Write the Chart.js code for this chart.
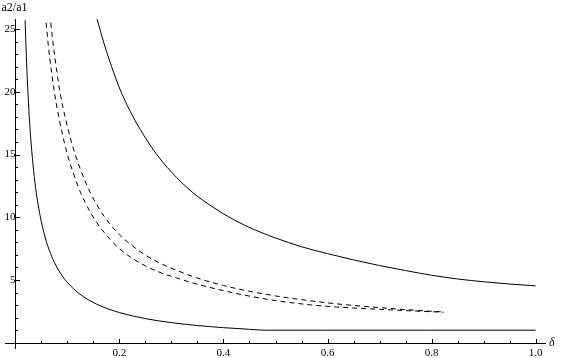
<!DOCTYPE html>
<html><head><meta charset="utf-8">
<script src="https://cdn.jsdelivr.net/npm/chart.js@4/dist/chart.umd.min.js"></script>
<style>html,body{margin:0;padding:0;background:#fff}#wrap{width:562px;height:358px}</style>
</head><body><div id="wrap"><canvas id="c" width="562" height="358"></canvas></div>
<script>
// Axis ticks and labels
const xTickValues = [0.2, 0.4, 0.6, 0.8, 1.0];
const xTickLabels = ['0.2', '0.4', '0.6', '0.8', '1.0'];
const xMinorTicks = [0.05, 0.1, 0.15, 0.25, 0.3, 0.35, 0.45, 0.5, 0.55, 0.65, 0.7, 0.75, 0.85, 0.9, 0.95];
const yTickValues = [5, 10, 15, 20, 25];
const yTickLabels = ['5', '10', '15', '20', '25'];
const yMinorTicks = [1, 2, 3, 4, 6, 7, 8, 9, 11, 12, 13, 14, 16, 17, 18, 19, 21, 22, 23, 24];
const xAxisTitle = 'δ';
const yAxisTitle = 'a2/a1';

// Lower solid curve
const lowerSolidX = [0.0187, 0.02, 0.022, 0.025, 0.028, 0.03, 0.035, 0.04, 0.045, 0.05, 0.06, 0.07, 0.08, 0.09, 0.1, 0.12, 0.14, 0.16, 0.18, 0.2, 0.25, 0.3, 0.35, 0.4, 0.45, 0.48, 0.6, 0.8, 1.0];
const lowerSolidY = [25.7, 24.0, 21.8, 19.2, 17.1, 16.0, 13.7, 12.0, 10.7, 9.6, 8.0, 6.86, 6.0, 5.33, 4.8, 4.0, 3.43, 3.0, 2.67, 2.4, 1.92, 1.6, 1.37, 1.2, 1.07, 1.0, 1.0, 1.0, 1.0];

// Dashed curve (lower of the pair)
const dashLowX = [0.059, 0.063, 0.07, 0.078, 0.09, 0.1, 0.1115, 0.125, 0.144, 0.16, 0.182, 0.2, 0.225, 0.25, 0.28, 0.31, 0.35, 0.4, 0.438, 0.5, 0.567, 0.62, 0.676, 0.75, 0.823];
const dashLowY = [25.5, 23.8, 21.4, 19.2, 16.7, 15.0, 13.5, 12.0, 10.4, 9.37, 8.24, 7.5, 6.72, 6.12, 5.57, 5.16, 4.66, 4.15, 3.81, 3.36, 3.02, 2.84, 2.71, 2.56, 2.43];

// Dashed curve (upper of the pair)
const dashHighX = [0.068, 0.072, 0.078, 0.086, 0.095, 0.105, 0.115, 0.128, 0.14, 0.155, 0.17, 0.182, 0.2, 0.225, 0.25, 0.28, 0.31, 0.35, 0.4, 0.438, 0.5, 0.567, 0.62, 0.676, 0.75, 0.823];
const dashHighY = [25.5, 24.0, 22.1, 19.9, 18.1, 16.4, 15.0, 13.5, 12.3, 11.1, 10.1, 9.45, 8.6, 7.72, 6.98, 6.3, 5.77, 5.15, 4.56, 4.2, 3.73, 3.34, 3.09, 2.88, 2.64, 2.45];

// Upper solid curve
const upperSolidX = [0.157, 0.17, 0.185, 0.2, 0.22, 0.24, 0.27, 0.3, 0.34, 0.38, 0.42, 0.46, 0.5, 0.55, 0.6, 0.65, 0.7, 0.75, 0.8, 0.85, 0.9, 0.95, 1.0];
const upperSolidY = [25.8, 23.9, 22.0, 20.3, 18.5, 17.0, 15.1, 13.6, 12.0, 10.8, 9.8, 9.0, 8.35, 7.65, 7.1, 6.6, 6.15, 5.75, 5.38, 5.08, 4.86, 4.68, 4.53];

const pts = (xs, ys) => xs.map((x, i) => ({x: x, y: ys[i]}));

const SERIF = '"Liberation Serif", "Times New Roman", Times, "DejaVu Serif", serif';
const lineStyle = {borderColor: '#000', borderWidth: 1, pointRadius: 0, fill: false, cubicInterpolationMode: 'monotone'};

const axisDecor = {
  id: 'axisDecor',
  afterDraw(chart) {
    const {ctx, scales: {x, y}} = chart;
    const x0 = Math.round(x.getPixelForValue(0)) + 0.5;
    const y0 = Math.round(y.getPixelForValue(0)) + 0.5;
    ctx.save();
    ctx.strokeStyle = '#000';
    ctx.lineWidth = 1;
    ctx.beginPath();
    // axis lines
    ctx.moveTo(x.left, y0); ctx.lineTo(x.right, y0);
    ctx.moveTo(x0, y.bottom); ctx.lineTo(x0, y.top);
    xTickValues.forEach(v => { const p = Math.round(x.getPixelForValue(v)) + 0.5; ctx.moveTo(p, y0); ctx.lineTo(p, y0 - 4.5); });
    xMinorTicks.forEach(v => { const p = Math.round(x.getPixelForValue(v)) + 0.5; ctx.moveTo(p, y0); ctx.lineTo(p, y0 - 2.5); });
    yTickValues.forEach(v => { const p = Math.round(y.getPixelForValue(v)) + 0.5; ctx.moveTo(x0, p); ctx.lineTo(x0 + 4.5, p); });
    yMinorTicks.forEach(v => { const p = Math.round(y.getPixelForValue(v)) + 0.5; ctx.moveTo(x0, p); ctx.lineTo(x0 + 2.5, p); });
    ctx.stroke();
    ctx.fillStyle = '#000';
    ctx.font = '12px ' + SERIF;
    ctx.textAlign = 'center';
    ctx.textBaseline = 'top';
    ctx.fillText(yAxisTitle, x0 - 1, 2);
    ctx.font = 'italic 12px ' + SERIF;
    ctx.textAlign = 'left';
    ctx.textBaseline = 'middle';
    ctx.fillText(xAxisTitle, x.right + 3, y0 - 1);
    ctx.restore();
  }
};

const zeroPad = s => { s.paddingTop = 0; s.paddingBottom = 0; s.paddingLeft = 0; s.paddingRight = 0; };

Chart.defaults.font.family = SERIF;

new Chart(document.getElementById('c'), {
  type: 'line',
  data: {
    datasets: [
      Object.assign({data: pts(lowerSolidX, lowerSolidY)}, lineStyle),
      Object.assign({data: pts(dashLowX, dashLowY), borderDash: [5, 4]}, lineStyle),
      Object.assign({data: pts(dashHighX, dashHighY), borderDash: [5, 4]}, lineStyle),
      Object.assign({data: pts(upperSolidX, upperSolidY)}, lineStyle)
    ]
  },
  options: {
    responsive: false,
    animation: false,
    devicePixelRatio: 1,
    layout: {padding: {left: 5, right: 16, top: 19, bottom: 9}},
    plugins: {legend: {display: false}, tooltip: {enabled: false}},
    scales: {
      x: {
        type: 'linear', min: -0.02, max: 1.02,
        position: {y: 0},
        grid: {display: false, drawTicks: false},
        border: {display: false},
        afterBuildTicks: s => { s.ticks = xTickValues.map(v => ({value: v})); },
        afterFit: zeroPad,
        ticks: {autoSkip: false, maxRotation: 0, padding: 4, color: '#000',
          font: {family: SERIF, size: 11},
          callback: (v, i) => xTickLabels[i]}
      },
      y: {
        type: 'linear', min: -0.5, max: 25.8,
        position: {x: 0},
        grid: {display: false, drawTicks: false},
        border: {display: false},
        afterBuildTicks: s => { s.ticks = yTickValues.map(v => ({value: v})); },
        afterFit: zeroPad,
        ticks: {autoSkip: false, padding: 4, color: '#000',
          font: {family: SERIF, size: 11},
          callback: (v, i) => yTickLabels[i]}
      }
    }
  },
  plugins: [axisDecor]
});
</script>
</body></html>
